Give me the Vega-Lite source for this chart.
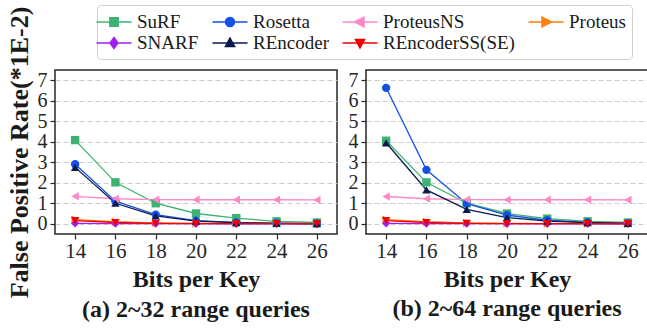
{
  "$schema": "https://vega.github.io/schema/vega-lite/v6.json",
  "padding": {"left": 5, "top": 3, "right": 0, "bottom": 0},
  "background": "white",
  "data": {"values": [
    {"panel": "a", "series": "SuRF", "bits": 14, "fpr": 4.08},
    {"panel": "a", "series": "SuRF", "bits": 16, "fpr": 2.02},
    {"panel": "a", "series": "SuRF", "bits": 18, "fpr": 1.0},
    {"panel": "a", "series": "SuRF", "bits": 20, "fpr": 0.5},
    {"panel": "a", "series": "SuRF", "bits": 22, "fpr": 0.27},
    {"panel": "a", "series": "SuRF", "bits": 24, "fpr": 0.12},
    {"panel": "a", "series": "SuRF", "bits": 26, "fpr": 0.06},
    {"panel": "a", "series": "Rosetta", "bits": 14, "fpr": 2.9},
    {"panel": "a", "series": "Rosetta", "bits": 16, "fpr": 1.1},
    {"panel": "a", "series": "Rosetta", "bits": 18, "fpr": 0.44},
    {"panel": "a", "series": "Rosetta", "bits": 20, "fpr": 0.15},
    {"panel": "a", "series": "Rosetta", "bits": 22, "fpr": 0.06},
    {"panel": "a", "series": "Rosetta", "bits": 24, "fpr": 0.03},
    {"panel": "a", "series": "Rosetta", "bits": 26, "fpr": 0.01},
    {"panel": "a", "series": "ProteusNS", "bits": 14, "fpr": 1.34},
    {"panel": "a", "series": "ProteusNS", "bits": 16, "fpr": 1.22},
    {"panel": "a", "series": "ProteusNS", "bits": 18, "fpr": 1.18},
    {"panel": "a", "series": "ProteusNS", "bits": 20, "fpr": 1.17},
    {"panel": "a", "series": "ProteusNS", "bits": 22, "fpr": 1.17},
    {"panel": "a", "series": "ProteusNS", "bits": 24, "fpr": 1.17},
    {"panel": "a", "series": "ProteusNS", "bits": 26, "fpr": 1.16},
    {"panel": "a", "series": "Proteus", "bits": 14, "fpr": 0.2},
    {"panel": "a", "series": "Proteus", "bits": 16, "fpr": 0.1},
    {"panel": "a", "series": "Proteus", "bits": 18, "fpr": 0.04},
    {"panel": "a", "series": "Proteus", "bits": 20, "fpr": 0.02},
    {"panel": "a", "series": "Proteus", "bits": 22, "fpr": 0.01},
    {"panel": "a", "series": "Proteus", "bits": 24, "fpr": 0.005},
    {"panel": "a", "series": "Proteus", "bits": 26, "fpr": 0.002},
    {"panel": "a", "series": "SNARF", "bits": 14, "fpr": 0.02},
    {"panel": "a", "series": "SNARF", "bits": 16, "fpr": 0.01},
    {"panel": "a", "series": "SNARF", "bits": 18, "fpr": 0.005},
    {"panel": "a", "series": "SNARF", "bits": 20, "fpr": 0.002},
    {"panel": "a", "series": "SNARF", "bits": 22, "fpr": 0.001},
    {"panel": "a", "series": "SNARF", "bits": 24, "fpr": 0.0},
    {"panel": "a", "series": "SNARF", "bits": 26, "fpr": 0.0},
    {"panel": "a", "series": "REncoder", "bits": 14, "fpr": 2.75},
    {"panel": "a", "series": "REncoder", "bits": 16, "fpr": 1.0},
    {"panel": "a", "series": "REncoder", "bits": 18, "fpr": 0.38},
    {"panel": "a", "series": "REncoder", "bits": 20, "fpr": 0.13},
    {"panel": "a", "series": "REncoder", "bits": 22, "fpr": 0.05},
    {"panel": "a", "series": "REncoder", "bits": 24, "fpr": 0.02},
    {"panel": "a", "series": "REncoder", "bits": 26, "fpr": 0.01},
    {"panel": "a", "series": "REncoderSS(SE)", "bits": 14, "fpr": 0.15},
    {"panel": "a", "series": "REncoderSS(SE)", "bits": 16, "fpr": 0.06},
    {"panel": "a", "series": "REncoderSS(SE)", "bits": 18, "fpr": 0.02},
    {"panel": "a", "series": "REncoderSS(SE)", "bits": 20, "fpr": 0.01},
    {"panel": "a", "series": "REncoderSS(SE)", "bits": 22, "fpr": 0.004},
    {"panel": "a", "series": "REncoderSS(SE)", "bits": 24, "fpr": 0.002},
    {"panel": "a", "series": "REncoderSS(SE)", "bits": 26, "fpr": 0.001},
    {"panel": "b", "series": "SuRF", "bits": 14, "fpr": 4.05},
    {"panel": "b", "series": "SuRF", "bits": 16, "fpr": 2.02},
    {"panel": "b", "series": "SuRF", "bits": 18, "fpr": 1.0},
    {"panel": "b", "series": "SuRF", "bits": 20, "fpr": 0.5},
    {"panel": "b", "series": "SuRF", "bits": 22, "fpr": 0.25},
    {"panel": "b", "series": "SuRF", "bits": 24, "fpr": 0.12},
    {"panel": "b", "series": "SuRF", "bits": 26, "fpr": 0.06},
    {"panel": "b", "series": "Rosetta", "bits": 14, "fpr": 6.63},
    {"panel": "b", "series": "Rosetta", "bits": 16, "fpr": 2.63},
    {"panel": "b", "series": "Rosetta", "bits": 18, "fpr": 0.98},
    {"panel": "b", "series": "Rosetta", "bits": 20, "fpr": 0.42},
    {"panel": "b", "series": "Rosetta", "bits": 22, "fpr": 0.17},
    {"panel": "b", "series": "Rosetta", "bits": 24, "fpr": 0.07},
    {"panel": "b", "series": "Rosetta", "bits": 26, "fpr": 0.03},
    {"panel": "b", "series": "ProteusNS", "bits": 14, "fpr": 1.33},
    {"panel": "b", "series": "ProteusNS", "bits": 16, "fpr": 1.22},
    {"panel": "b", "series": "ProteusNS", "bits": 18, "fpr": 1.18},
    {"panel": "b", "series": "ProteusNS", "bits": 20, "fpr": 1.17},
    {"panel": "b", "series": "ProteusNS", "bits": 22, "fpr": 1.17},
    {"panel": "b", "series": "ProteusNS", "bits": 24, "fpr": 1.17},
    {"panel": "b", "series": "ProteusNS", "bits": 26, "fpr": 1.16},
    {"panel": "b", "series": "Proteus", "bits": 14, "fpr": 0.2},
    {"panel": "b", "series": "Proteus", "bits": 16, "fpr": 0.1},
    {"panel": "b", "series": "Proteus", "bits": 18, "fpr": 0.04},
    {"panel": "b", "series": "Proteus", "bits": 20, "fpr": 0.02},
    {"panel": "b", "series": "Proteus", "bits": 22, "fpr": 0.01},
    {"panel": "b", "series": "Proteus", "bits": 24, "fpr": 0.005},
    {"panel": "b", "series": "Proteus", "bits": 26, "fpr": 0.002},
    {"panel": "b", "series": "SNARF", "bits": 14, "fpr": 0.02},
    {"panel": "b", "series": "SNARF", "bits": 16, "fpr": 0.01},
    {"panel": "b", "series": "SNARF", "bits": 18, "fpr": 0.005},
    {"panel": "b", "series": "SNARF", "bits": 20, "fpr": 0.002},
    {"panel": "b", "series": "SNARF", "bits": 22, "fpr": 0.001},
    {"panel": "b", "series": "SNARF", "bits": 24, "fpr": 0.0},
    {"panel": "b", "series": "SNARF", "bits": 26, "fpr": 0.0},
    {"panel": "b", "series": "REncoder", "bits": 14, "fpr": 3.95},
    {"panel": "b", "series": "REncoder", "bits": 16, "fpr": 1.65},
    {"panel": "b", "series": "REncoder", "bits": 18, "fpr": 0.7},
    {"panel": "b", "series": "REncoder", "bits": 20, "fpr": 0.3},
    {"panel": "b", "series": "REncoder", "bits": 22, "fpr": 0.13},
    {"panel": "b", "series": "REncoder", "bits": 24, "fpr": 0.05},
    {"panel": "b", "series": "REncoder", "bits": 26, "fpr": 0.02},
    {"panel": "b", "series": "REncoderSS(SE)", "bits": 14, "fpr": 0.15},
    {"panel": "b", "series": "REncoderSS(SE)", "bits": 16, "fpr": 0.06},
    {"panel": "b", "series": "REncoderSS(SE)", "bits": 18, "fpr": 0.02},
    {"panel": "b", "series": "REncoderSS(SE)", "bits": 20, "fpr": 0.01},
    {"panel": "b", "series": "REncoderSS(SE)", "bits": 22, "fpr": 0.004},
    {"panel": "b", "series": "REncoderSS(SE)", "bits": 24, "fpr": 0.002},
    {"panel": "b", "series": "REncoderSS(SE)", "bits": 26, "fpr": 0.001}
  ]},
  "spacing": 29,
  "bounds": "flush",
  "resolve": {"scale": {"color": "independent", "shape": "independent", "stroke": "independent"}},
  "hconcat": [
    {
      "width": 282,
      "height": 164,
      "transform": [{"filter": "datum.panel == 'a'"}],
      "title": {"text": "(a) 2~32 range queries", "orient": "bottom", "anchor": "middle", "font": "Times New Roman", "fontSize": 24, "fontWeight": "bold", "color": "#1a1a1a", "offset": 0},
      "encoding": {
        "x": {"field": "bits", "type": "quantitative", "title": "Bits per Key",
              "scale": {"domain": [13, 27], "nice": false, "zero": false},
              "axis": {"values": [14, 16, 18, 20, 22, 24, 26], "grid": false}},
        "y": {"field": "fpr", "type": "quantitative", "title": "False Positive Rate(*1E-2)",
              "scale": {"domain": [-0.5, 7.5], "nice": false, "zero": false},
              "axis": {"values": [0, 1, 2, 3, 4, 5, 6, 7], "titleFontSize": 26, "titlePadding": 5}}
      },
      "resolve": {"scale": {"color": "independent", "shape": "independent", "stroke": "independent"}},
      "layer": [
        {
          "encoding": {
            "color": {"field": "series", "type": "nominal", "legend": null,
              "scale": {"domain": ["SuRF", "Rosetta", "ProteusNS", "Proteus", "SNARF", "REncoder", "REncoderSS(SE)"],
                        "range": ["#3cb371", "#1450e6", "#ff88c8", "#ff7f0e", "#a020f0", "#0a1a4d", "#f00000"]}}
          },
          "layer": [
            {"mark": {"type": "line", "strokeWidth": 1.3}},
            {"mark": {"type": "point", "filled": true, "size": 70, "opacity": 1},
             "encoding": {"shape": {"field": "series", "type": "nominal", "legend": null,
               "scale": {"domain": ["SuRF", "Rosetta", "ProteusNS", "Proteus", "SNARF", "REncoder", "REncoderSS(SE)"],
                         "range": ["square", "circle", "triangle-left", "triangle-right", "diamond", "triangle-up", "triangle-down"]}}}}
          ]
        },
        {
          "transform": [{"filter": "datum.bits > 100"}],
          "mark": {"type": "point", "filled": true, "opacity": 1, "strokeWidth": 1.5},
          "encoding": {
            "color": {"field": "series", "type": "nominal",
              "scale": {"domain": ["SuRF", "Rosetta", "ProteusNS", "Proteus", "SNARF", "REncoder", "REncoderSS(SE)"],
                        "range": ["#3cb371", "#1450e6", "#ff88c8", "#ff7f0e", "#a020f0", "#0a1a4d", "#f00000"]},
              "legend": {"title": null, "orient": "none", "legendX": 42, "legendY": -65, "columns": 4, "direction": "horizontal"}},
            "stroke": {"field": "series", "type": "nominal",
              "scale": {"domain": ["SuRF", "Rosetta", "ProteusNS", "Proteus", "SNARF", "REncoder", "REncoderSS(SE)"],
                        "range": ["#3cb371", "#1450e6", "#ff88c8", "#ff7f0e", "#a020f0", "#0a1a4d", "#f00000"]},
              "legend": {"title": null, "orient": "none", "legendX": 42, "legendY": -65, "columns": 4, "direction": "horizontal"}},
            "shape": {"field": "series", "type": "nominal",
              "scale": {"domain": ["SuRF", "Rosetta", "ProteusNS", "Proteus", "SNARF", "REncoder", "REncoderSS(SE)"],
                        "range": ["M-1.75,0H1.75M-0.42,-0.42H0.42V0.42H-0.42Z", "M-1.75,0H1.75M-0.45,0A0.45,0.45,0,1,0,0.45,0A0.45,0.45,0,1,0,-0.45,0Z", "M-1.75,0H1.75M-0.55,0L0.4,-0.48L0.4,0.48Z", "M-1.75,0H1.75M0.55,0L-0.4,-0.48L-0.4,0.48Z", "M-1.75,0H1.75M0,-0.55L0.4,0L0,0.55L-0.4,0Z", "M-1.75,0H1.75M0,-0.5L0.46,0.36L-0.46,0.36Z", "M-1.75,0H1.75M0,0.5L0.46,-0.36L-0.46,-0.36Z"]},
              "legend": {"title": null, "orient": "none", "legendX": 42, "legendY": -65, "columns": 4, "direction": "horizontal"}}
          }
        }
      ]
    },
    {
      "width": 282,
      "height": 164,
      "transform": [{"filter": "datum.panel == 'b'"}],
      "title": {"text": "(b) 2~64 range queries", "orient": "bottom", "anchor": "middle", "font": "Times New Roman", "fontSize": 24, "fontWeight": "bold", "color": "#1a1a1a", "offset": 6},
      "encoding": {
        "x": {"field": "bits", "type": "quantitative", "title": "Bits per Key",
              "scale": {"domain": [13, 27], "nice": false, "zero": false},
              "axis": {"values": [14, 16, 18, 20, 22, 24, 26], "grid": false}},
        "y": {"field": "fpr", "type": "quantitative", "title": null,
              "scale": {"domain": [-0.5, 7.5], "nice": false, "zero": false},
              "axis": {"values": [0, 1, 2, 3, 4, 5, 6, 7]}},
        "color": {"field": "series", "type": "nominal", "legend": null,
          "scale": {"domain": ["SuRF", "Rosetta", "ProteusNS", "Proteus", "SNARF", "REncoder", "REncoderSS(SE)"],
                    "range": ["#3cb371", "#1450e6", "#ff88c8", "#ff7f0e", "#a020f0", "#0a1a4d", "#f00000"]}}
      },
      "layer": [
        {"mark": {"type": "line", "strokeWidth": 1.3}},
        {"mark": {"type": "point", "filled": true, "size": 70, "opacity": 1},
         "encoding": {"shape": {"field": "series", "type": "nominal", "legend": null,
           "scale": {"domain": ["SuRF", "Rosetta", "ProteusNS", "Proteus", "SNARF", "REncoder", "REncoderSS(SE)"],
                     "range": ["square", "circle", "triangle-left", "triangle-right", "diamond", "triangle-up", "triangle-down"]}}}}
      ]
    }
  ],
  "config": {
    "font": "Times New Roman",
    "view": {"stroke": "#262626", "strokeWidth": 1.5},
    "axis": {
      "labelFont": "Times New Roman", "labelFontSize": 21, "labelColor": "#262626", "labelOverlap": false,
      "titleFont": "Times New Roman", "titleFontSize": 24, "titleFontWeight": "bold", "titleColor": "#1a1a1a",
      "domain": false, "tickColor": "#262626", "tickSize": 5, "tickWidth": 1.2, "labelPadding": 1, "titlePadding": 6
    },
    "axisY": {"gridDash": [5, 3], "gridColor": "#cccccc", "gridWidth": 1, "labelPadding": 3, "labelFontSize": 20},
    "legend": {
      "labelFont": "Times New Roman", "labelFontSize": 19, "labelColor": "#1a1a1a", "labelOffset": 12,
      "symbolSize": 400, "symbolStrokeWidth": 1.5, "columnPadding": 10, "rowPadding": -2, "padding": 6,
      "strokeColor": "#d0d0d0", "fillColor": "white", "cornerRadius": 4, "gridAlign": "each", "labelLimit": 300
    }
  }
}
